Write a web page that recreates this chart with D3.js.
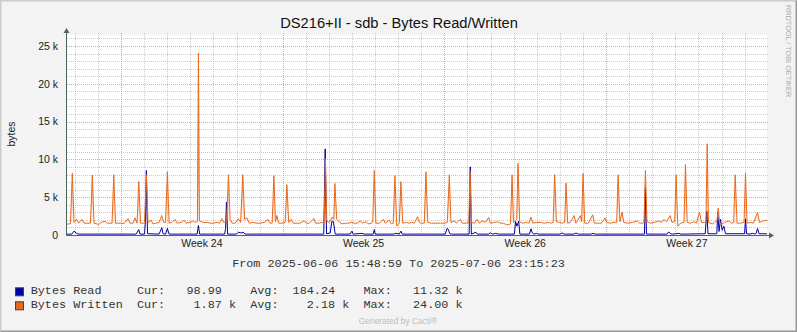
<!DOCTYPE html>
<html>
<head>
<meta charset="utf-8">
<script src="https://cdn.jsdelivr.net/npm/d3@7"></script>
<style>
body { margin:0; background:#fff; }
svg text { font-family: "Liberation Sans", Arial, sans-serif; }
.mono { font-family: "Liberation Mono", "Courier New", monospace; font-size:11.8px; white-space:pre; }
</style>
</head>
<body>
<svg id="chart" width="797" height="332"></svg>
<script>
// time range of the graph
var startTime = new Date(2025, 5, 6, 15, 48, 59);
var endTime = new Date(2025, 6, 6, 23, 15, 23);

var yTicks = [0, 5000, 10000, 15000, 20000, 25000];

// [hours since start, value in k]
var bytesRead = [
  [0,0.05],[5.0,0.05],[7.3,0.45],[9.4,0.2],[11.4,0.05],[71.8,0.05],[74.6,0.65],[75.9,0.05],
  [80.6,0.05],[81.4,1.6],[82.5,8.47],[83.7,0.1],[95.7,0.05],[98.5,0.9],[99.8,0.1],[102.4,0.05],
  [104.3,0.8],[106.1,0.05],[135.2,0.05],[136.6,1.2],[137.8,0.05],[163.8,0.05],[164.8,0.8],
  [165.7,4.27],[166.9,0.05],[175.8,0.05],[178.4,0.3],[181.0,0.2],[183.0,0.3],[185.1,0.05],
  [266.8,0.05],[268.3,11.32],[269.7,0.1],[273.5,0.2],[275.3,1.76],[276.9,1.7],[278.7,0.05],
  [294.3,0.05],[296.1,0.45],[297.4,0.05],[306.5,0.15],[308.9,0.05],[318.2,0.05],[319.3,0.65],
  [320.3,0.05],[339.0,0.05],[341.8,0.15],[345.3,0.05],[347.0,0.45],[348.4,0.05],[393.1,0.05],
  [394.9,0.8],[396.2,0.7],[397.8,0.1],[399.4,0.05],[417.9,0.05],[419.1,8.95],[420.2,0.05],
  [425.0,0.3],[426.4,0.05],[437.8,0.05],[439.9,0.22],[442.5,0.05],[445.1,0.15],[448.2,0.05],
  [464.9,0.05],[466.2,1.7],[467.5,1.1],[469.4,1.76],[470.6,0.05],[480.5,0.05],[482.2,0.75],
  [483.6,0.2],[485.2,0.05],[488.1,0.15],[489.8,0.05],[512.2,0.05],[514.5,0.2],[516.9,0.05],
  [526.8,0.05],[529.0,0.2],[531.4,0.05],[544.4,0.05],[546.7,0.15],[549.1,0.05],[600.1,0.05],
  [601.1,6.17],[602.2,0.05],[623.5,0.05],[625.4,0.35],[627.1,0.1],[629.2,0.05],[635.8,0.15],
  [638.0,0.05],[663.2,0.1],[664.9,3.08],[666.1,0.1],[675.3,0.1],[676.2,2.95],[677.6,0.4],
  [679.1,2.0],[680.9,0.55],[682.6,1.1],[684.3,0.1],[704.1,0.1],[705.1,2.07],[706.2,0.1],
  [709.8,0.05],[712.1,0.15],[714.5,0.1],[716.0,0.1],[717.6,0.8],[719.2,0.1],[727.4,0.1]
];

var bytesWritten = [
  [0,1.35],[3.6,1.45],[5.5,8.1],[7.3,1.6],[10.1,2.0],[12.0,1.5],[15.6,2.0],[17.7,1.5],
  [21.8,1.5],[24.4,1.5],[26.3,7.85],[28.1,1.5],[31.2,1.4],[32.8,1.3],[35.4,1.6],[39.5,1.75],
  [41.6,1.5],[44.7,1.5],[46.8,1.5],[48.6,7.9],[50.4,1.5],[53.0,1.5],[56.2,1.5],[59.3,1.45],
  [63.4,2.1],[65.5,1.5],[68.6,1.5],[70.7,2.2],[72.8,1.5],[74.6,7.0],[76.4,1.5],[79.0,1.5],
  [80.6,1.6],[82.5,7.9],[84.2,1.6],[87.4,1.9],[89.4,1.4],[92.6,1.5],[95.7,1.6],[98.5,2.5],
  [100.4,1.6],[102.4,1.6],[104.3,8.3],[106.1,1.5],[109.2,1.6],[112.3,2.0],[114.4,1.5],
  [118.6,1.6],[121.7,1.9],[123.8,1.5],[127.9,1.6],[131.0,1.8],[133.1,1.6],[135.5,1.7],
  [136.6,24.0],[137.6,1.8],[141.4,1.6],[145.6,1.6],[148.7,1.5],[151.8,1.5],[156.0,1.6],
  [158.6,1.5],[160.9,2.1],[162.8,1.6],[165.9,1.8],[167.8,7.9],[169.5,2.0],[171.6,1.5],
  [174.7,1.5],[178.2,2.1],[180.4,1.6],[182.7,7.9],[184.6,2.0],[186.9,2.2],[189.3,1.5],
  [193.4,1.6],[196.6,1.5],[200.7,1.5],[204.9,1.6],[208.7,2.0],[211.1,1.5],[213.2,1.5],
  [215.0,7.8],[216.6,1.7],[218.1,2.5],[220.0,1.5],[223.6,1.5],[226.7,1.6],[228.5,6.6],
  [230.4,1.6],[233.0,2.0],[235.0,1.5],[239.2,1.5],[242.3,1.5],[246.5,1.8],[248.6,1.5],
  [251.7,1.5],[256.6,2.1],[258.4,1.5],[262.1,1.5],[265.2,1.6],[267.3,1.6],[268.6,10.0],
  [269.9,1.8],[272.5,1.6],[275.6,2.3],[277.2,2.0],[278.4,6.75],[280.3,2.0],[283.6,1.6],
  [286.0,1.4],[289.1,1.5],[292.2,1.5],[296.1,1.6],[298.5,1.5],[301.6,1.5],[305.0,1.8],
  [306.8,1.5],[311.0,1.7],[313.0,1.4],[316.2,1.5],[317.7,1.6],[319.3,8.47],[321.0,1.5],
  [324.5,1.5],[329.0,2.0],[330.7,1.5],[334.9,1.9],[337.0,1.4],[339.0,1.5],[340.8,7.8],
  [342.7,1.1],[345.3,1.5],[347.0,7.0],[348.9,1.5],[352.6,1.6],[355.7,1.5],[358.5,1.6],
  [360.9,1.5],[364.3,2.35],[366.1,1.6],[368.2,1.5],[371.3,1.5],[373.0,8.3],[374.9,1.6],
  [378.6,1.5],[382.7,1.5],[387.9,1.5],[392.1,1.5],[395.2,1.6],[397.3,7.9],[399.0,1.6],
  [402.5,1.8],[404.6,1.5],[408.7,2.0],[410.8,1.5],[415.0,1.5],[417.6,1.6],[418.8,8.4],
  [420.2,1.6],[423.3,1.5],[426.1,2.0],[428.5,1.5],[431.6,1.8],[434.7,1.6],[438.2,2.25],
  [439.9,1.5],[444.1,1.6],[447.2,1.7],[450.3,1.5],[453.4,1.5],[456.6,1.3],[459.7,1.3],
  [460.9,1.4],[462.5,7.9],[464.0,1.6],[465.9,1.8],[467.3,2.0],[468.7,9.4],[470.4,1.7],
  [473.2,1.5],[477.4,1.6],[480.0,1.5],[482.2,2.3],[484.1,1.5],[487.8,1.6],[491.9,1.6],
  [496.1,1.5],[500.2,1.6],[503.4,1.5],[505.2,1.6],[506.8,7.9],[508.6,1.7],[511.7,1.6],
  [514.8,1.5],[517.1,1.6],[518.6,6.8],[520.3,1.5],[523.1,1.6],[527.0,2.5],[528.8,1.5],
  [533.5,2.5],[534.8,1.7],[536.3,8.07],[538.0,1.5],[541.8,1.5],[546.3,2.6],[548.1,1.5],
  [552.2,1.5],[555.4,1.5],[559.2,2.2],[561.1,1.6],[564.7,1.5],[567.8,1.6],[571.2,1.6],
  [572.7,7.9],[574.6,1.7],[576.9,2.95],[578.6,1.6],[582.4,1.5],[587.6,1.6],[592.5,1.8],
  [594.9,1.5],[598.0,1.5],[599.6,1.6],[601.1,8.47],[602.7,1.7],[606.3,1.5],[610.5,1.6],
  [615.0,1.8],[617.8,1.6],[620.2,2.0],[623.0,1.7],[626.8,2.5],[628.7,1.6],[631.5,1.7],
  [633.0,7.9],[634.7,1.1],[637.5,1.5],[641.2,1.6],[642.7,9.26],[644.5,1.6],[647.9,1.5],
  [651.4,1.7],[654.2,1.5],[657.3,2.95],[659.4,1.6],[662.5,1.6],[664.0,1.7],[665.3,12.0],
  [666.6,1.6],[670.5,1.4],[672.9,1.6],[675.5,1.8],[676.7,3.5],[678.1,1.7],[679.8,1.3],
  [683.3,1.6],[687.8,1.8],[690.6,1.5],[692.8,1.6],[694.4,7.9],[696.3,1.5],[699.9,1.5],
  [703.6,1.6],[705.1,8.15],[706.7,1.5],[710.3,1.6],[713.4,1.5],[717.6,2.95],[719.7,1.6],
  [721.8,1.7],[724.2,1.87],[727.4,1.87]
];

var seriesNames = ["Bytes Read", "Bytes Written"];
var seriesColors = ["#0000AA", "#E9691C"];
var legendRows = [
  "Bytes Read     Cur:   98.99    Avg:  184.24    Max:   11.32 k",
  "Bytes Written  Cur:    1.87 k  Avg:    2.18 k  Max:   24.00 k"
];
var titleText = "DS216+II - sdb - Bytes Read/Written";
var rangeText = "From 2025-06-06 15:48:59 To 2025-07-06 23:15:23";

var W = 797, H = 332;
var plot = {left: 67, right: 767, top: 35, bottom: 235};

var svg = d3.select("#chart");

var x = d3.scaleTime().domain([startTime, endTime]).range([plot.left, plot.right]);
var y = d3.scaleLinear().domain([0, 26455]).range([plot.bottom, plot.top]);

function toPoints(arr) {
  return arr.map(function(d){ return {t: new Date(startTime.getTime() + d[0] * 3600e3), v: d[1] * 1000}; });
}
var series = [toPoints(bytesRead), toPoints(bytesWritten)];

// background + frame
svg.append("rect").attr("width", W).attr("height", H).attr("fill", "#F3F3F3");
svg.append("path").attr("d", "M0.5," + (H-0.5) + "V0.5H" + (W-0.5)).attr("fill", "none").attr("stroke", "#CBCBCB").attr("stroke-width", 2);
svg.append("path").attr("d", "M" + (W-0.5) + ",0.5V" + (H-0.5) + "H0.5").attr("fill", "none").attr("stroke", "#999").attr("stroke-width", 2);

svg.append("rect").attr("x", plot.left).attr("y", plot.top)
  .attr("width", plot.right - plot.left).attr("height", plot.bottom - plot.top).attr("fill", "#fff");

// grid
var grid = svg.append("g").attr("stroke-dasharray", "1,1").attr("shape-rendering", "crispEdges");
var days = d3.timeDay.range(d3.timeDay.ceil(startTime), endTime);
grid.selectAll(".vday").data(days).enter().append("line")
  .attr("x1", function(d){ return Math.round(x(d)) + 0.5; })
  .attr("x2", function(d){ return Math.round(x(d)) + 0.5; })
  .attr("y1", plot.top - 2).attr("y2", plot.bottom)
  .attr("stroke", function(d){ return d.getDay() === 1 ? "#DE5050" : "#8F8F8F"; })
  .attr("stroke-opacity", function(d){ return d.getDay() === 1 ? 0.55 : 0.45; });

var ks = d3.range(1000, 26001, 1000);
grid.selectAll(".hk").data(ks).enter().append("line")
  .attr("x1", plot.left).attr("x2", plot.right + 2)
  .attr("y1", function(d){ return Math.round(y(d)) + 0.5; })
  .attr("y2", function(d){ return Math.round(y(d)) + 0.5; })
  .attr("stroke", function(d){ return d % 5000 === 0 ? "#DE5050" : "#8F8F8F"; })
  .attr("stroke-opacity", function(d){ return d % 5000 === 0 ? 0.55 : 0.45; });

// axes
var axisColor = "#4A675E";
svg.append("line").attr("x1", plot.left - 0.5).attr("x2", plot.left - 0.5)
  .attr("y1", plot.bottom + 0.5).attr("y2", plot.top - 4).attr("stroke", axisColor);
svg.append("path").attr("d", "M" + (plot.left - 3.5) + "," + (plot.top - 2) + "L" + (plot.left - 0.5) + "," + (plot.top - 7) + "L" + (plot.left + 2.5) + "," + (plot.top - 2) + "Z")
  .attr("fill", axisColor);
svg.append("line").attr("x1", plot.left - 0.5).attr("x2", plot.right + 3)
  .attr("y1", plot.bottom + 0.5).attr("y2", plot.bottom + 0.5).attr("stroke", axisColor);
svg.append("path").attr("d", "M" + (plot.right + 2) + "," + (plot.bottom - 2.5) + "L" + (plot.right + 7) + "," + (plot.bottom + 0.5) + "L" + (plot.right + 2) + "," + (plot.bottom + 3.5) + "Z")
  .attr("fill", axisColor);

// gradient areas: full colour high up, fading out just above the baseline
var defs = svg.append("defs");
seriesColors.forEach(function(c, i){
  var g = defs.append("linearGradient").attr("id", "grad" + i)
    .attr("gradientUnits", "userSpaceOnUse")
    .attr("x1", 0).attr("x2", 0).attr("y1", y(0) - 62).attr("y2", y(0) - 9);
  g.append("stop").attr("offset", 0).attr("stop-color", c).attr("stop-opacity", i === 0 ? 0.65 : 0.55);
  g.append("stop").attr("offset", 1).attr("stop-color", c).attr("stop-opacity", 0);
});

var area = d3.area().x(function(d){ return x(d.t); }).y0(y(0)).y1(function(d){ return y(d.v); });
var line = d3.line().x(function(d){ return x(d.t); }).y(function(d){ return y(d.v) - 0.5; });

series.forEach(function(s, i){
  svg.append("path").datum(s).attr("d", area).attr("fill", "url(#grad" + i + ")");
});
series.forEach(function(s, i){
  svg.append("path").datum(s).attr("d", line).attr("fill", "none")
    .attr("stroke", seriesColors[i]).attr("stroke-width", 1);
});

// y labels
svg.append("g").selectAll("text").data(yTicks).enter().append("text")
  .attr("x", 58).attr("y", function(d){ return y(d) + 3.8; })
  .attr("text-anchor", "end").attr("font-size", 10.5).attr("fill", "#222")
  .text(function(d){ return d === 0 ? "0" : (d / 1000) + " k"; });

svg.append("text").attr("transform", "translate(15,134) rotate(-90)")
  .attr("text-anchor", "middle").attr("font-size", 10.5).attr("fill", "#222").text("bytes");

// week labels
var weekFmt = d3.timeFormat("Week %V");
var mondays = d3.timeMonday.range(d3.timeMonday.floor(startTime), endTime)
  .map(function(m){ return {m: m, c: new Date(m.getTime() + 3.5 * 864e5)}; })
  .filter(function(d){ return d.c > startTime && d.c < endTime; });
svg.append("g").selectAll("text").data(mondays).enter().append("text")
  .attr("x", function(d){ return x(d.c); }).attr("y", 247)
  .attr("text-anchor", "middle").attr("font-size", 10.5).attr("fill", "#222")
  .text(function(d){ return weekFmt(d.m); });

// title
svg.append("text").attr("x", 399).attr("y", 28).attr("text-anchor", "middle")
  .attr("font-size", 14.7).attr("fill", "#111").text(titleText);

// range text
svg.append("text").attr("class", "mono").attr("x", 398.5).attr("y", 266.5)
  .attr("text-anchor", "middle").attr("fill", "#333").text(rangeText);

// legend
legendRows.forEach(function(r, i){
  var yy = 294.3 + i * 14;
  svg.append("rect").attr("x", 15.5).attr("y", yy - 6.5).attr("width", 8).attr("height", 8)
    .attr("fill", seriesColors[i]).attr("stroke", "#2C4D43").attr("stroke-width", 1);
  svg.append("text").attr("class", "mono").attr("x", 30.7).attr("y", yy).attr("fill", "#333").text(r);
});

// watermarks
svg.append("text").attr("x", 398).attr("y", 324).attr("text-anchor", "middle")
  .attr("font-size", 8.4).attr("fill", "#BDBDBD").text("Generated by Cacti\u00AE");
svg.append("text").attr("transform", "translate(785.5,5) rotate(90)")
  .attr("font-size", 7.3).attr("fill", "#ABABAB").text("RRDTOOL / TOBI OETIKER");
</script>
</body>
</html>
